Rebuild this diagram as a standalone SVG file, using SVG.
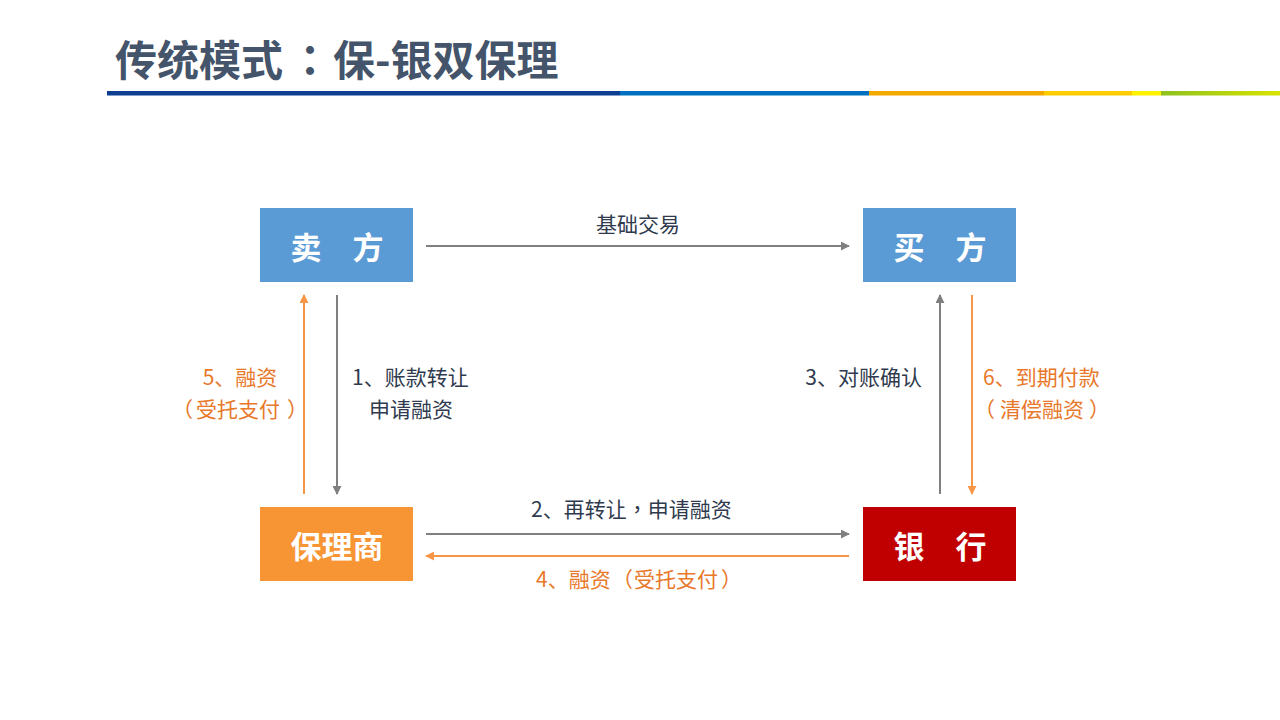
<svg xmlns="http://www.w3.org/2000/svg" width="1280" height="720" viewBox="0 0 1280 720">
<defs>
<linearGradient id="gGreen" x1="0" x2="1" y1="0" y2="0">
<stop offset="0" stop-color="#8DC21F"/>
<stop offset="1" stop-color="#D9E200"/>
</linearGradient>
<marker id="arrGrey" viewBox="0 0 10 10" refX="9" refY="5" markerWidth="4.5" markerHeight="4.5" orient="auto" markerUnits="strokeWidth">
<path d="M0,0 L10,5 L0,10 z" fill="#7F7F7F"/>
</marker>
<marker id="arrOrange" viewBox="0 0 10 10" refX="9" refY="5" markerWidth="4.5" markerHeight="4.5" orient="auto" markerUnits="strokeWidth">
<path d="M0,0 L10,5 L0,10 z" fill="#F79646"/>
</marker>
</defs>
<style>
.title{font-family:"Noto Sans CJK SC","Liberation Sans",sans-serif;font-weight:bold;font-size:42px;fill:#44546A}
.box{font-family:"Noto Sans CJK SC","Liberation Sans",sans-serif;font-weight:bold;font-size:31px;fill:#FFFFFF}
.lbl{font-family:"Noto Sans CJK SC","Liberation Sans",sans-serif;font-size:21px;fill:#2F3A4E}
.lblo{font-family:"Noto Sans CJK SC","Liberation Sans",sans-serif;font-size:21px;fill:#E8782A}
.tc{font-family:"Noto Sans CJK TC","Noto Sans CJK SC",sans-serif}
.g{stroke:#7F7F7F;stroke-width:2;fill:none;marker-end:url(#arrGrey)}
.o{stroke:#F79646;stroke-width:2;fill:none;marker-end:url(#arrOrange)}
</style>
<rect width="1280" height="720" fill="#FFFFFF"/>
<g id="title">
<text class="title" x="115" y="76">传统模式<tspan class="tc" x="289">：</tspan><tspan x="333">保-银双保理</tspan></text>
<rect x="107" y="91" width="513" height="4.5" fill="#0C3F91"/>
<rect x="620" y="91" width="249" height="4.5" fill="#0070C0"/>
<rect x="869" y="91" width="175" height="4.5" fill="#F5A800"/>
<rect x="1044" y="91" width="88" height="4.5" fill="#FFCC00"/>
<rect x="1132" y="91" width="29" height="4.5" fill="#FFF200"/>
<rect x="1161" y="91" width="119" height="4.5" fill="url(#gGreen)"/>
</g>
<g id="seller">
<rect x="260" y="208" width="153" height="74" fill="#5B9BD5"/>
<text class="box" x="337" y="259" text-anchor="middle">卖　方</text>
</g>
<g id="buyer">
<rect x="863" y="208" width="153" height="74" fill="#5B9BD5"/>
<text class="box" x="940" y="259" text-anchor="middle">买　方</text>
</g>
<g id="factor">
<rect x="260" y="507" width="153" height="74" fill="#F79433"/>
<text class="box" x="337" y="558" text-anchor="middle">保理商</text>
</g>
<g id="bank">
<rect x="863" y="507" width="153" height="74" fill="#C00000"/>
<text class="box" x="940" y="558" text-anchor="middle">银　行</text>
</g>
<g id="connectors">
<line class="g" x1="426" y1="246" x2="849" y2="246"/>
<line class="o" x1="304" y1="494" x2="304" y2="295"/>
<line class="g" x1="337" y1="295" x2="337" y2="494"/>
<line class="g" x1="940" y1="494" x2="940" y2="295"/>
<line class="o" x1="972" y1="295" x2="972" y2="494"/>
<line class="g" x1="426" y1="534" x2="849" y2="534"/>
<line class="o" x1="849" y1="556" x2="426" y2="556"/>
</g>
<g id="labels">
<text class="lbl" x="638" y="232" text-anchor="middle">基础交易</text>
<text class="lblo" x="240" y="385" text-anchor="middle">5、融资</text>
<text class="lblo" x="172" y="417">（<tspan x="196">受托支付</tspan><tspan x="287">）</tspan></text>
<text class="lbl" x="352" y="385">1、账款转让</text>
<text class="lbl" x="369" y="417">申请融资</text>
<text class="lbl" x="922" y="385" text-anchor="end">3、对账确认</text>
<text class="lblo" x="983" y="385">6、到期付款</text>
<text class="lblo" x="974" y="417">（<tspan x="1000">清偿融资</tspan><tspan x="1089">）</tspan></text>
<text class="lbl" x="531" y="517">2、再转让<tspan class="tc">，</tspan>申请融资</text>
<text class="lblo" x="536" y="587">4、融资<tspan x="612">（</tspan><tspan x="634">受托支付</tspan><tspan x="721">）</tspan></text>
</g>
</svg>
